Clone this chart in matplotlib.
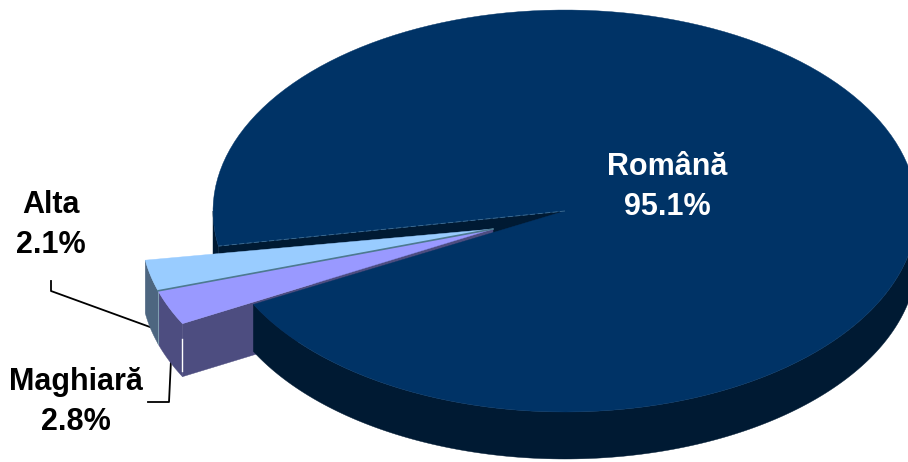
"""Exploded 3D pie of mother tongue shares, drawn by hand on a pixel canvas."""
import numpy as np
import matplotlib
matplotlib.use("Agg")
import matplotlib.pyplot as plt
from matplotlib.patches import Polygon

plt.rcParams["font.family"] = ["Liberation Sans", "DejaVu Sans"]

LABELS = ["Română", "Alta", "Maghiară"]
VALUES = [95.1, 2.1, 2.8]

W, H = 908, 462
CX, CY = 565, 211
RX, RY = 352, 201
DEPTH = 47
DEPTH_SMALL = 53  # the pulled out slices look thicker in the perspective
START = 207.7  # edge of the big slice, degrees, y up
TIP = (493, 229)  # where the small slices meet
SPREAD = [1.0, 1.19, 1.01]  # perspective stretch of each slice's sweep

TOP = {"Română": "#003366", "Alta": "#99ccff", "Maghiară": "#9999ff"}
SIDE = {"Română": "#001a33", "Alta": "#4d6680", "Maghiară": "#4d4d80"}


def arc(a0, a1, center=(CX, CY), n=160):
    ang = np.radians(np.linspace(a0, a1, n))
    x = center[0] + RX * np.cos(ang)
    y = center[1] - RY * np.sin(ang)
    return np.column_stack([x, y])


def wall(ax, pts, color, z, depth=DEPTH):
    low = pts + np.array([0, depth])
    ax.add_patch(Polygon(np.vstack([pts, low[::-1]]), closed=True,
                         fc=color, ec=color, lw=0.3, zorder=z))


fig = plt.figure(figsize=(W / 100, H / 100), dpi=100)
ax = fig.add_axes([0, 0, 1, 1])
ax.set_xlim(0, W)
ax.set_ylim(H, 0)
ax.axis("off")

sweep = np.array(VALUES) / sum(VALUES) * 360 * np.array(SPREAD)
main_end = START + sweep[0]
centre = np.array([[CX, CY]])

# big slice: cut wall behind the gap first, outer wall goes over the small slices
face = arc(START, main_end)
back_edge = np.vstack([centre, face[-1:]])
wall(ax, back_edge, SIDE["Română"], 1)
wall(ax, arc(540, main_end, n=20), SIDE["Română"], 1)
wall(ax, arc(START, 360), SIDE["Română"], 3)
ax.add_patch(Polygon(np.vstack([centre, face]), closed=True,
                     fc=TOP["Română"], ec=TOP["Română"], lw=0.3, zorder=4))
ax.plot(back_edge[:, 0], back_edge[:, 1], color="#3f6f96", lw=0.6,
        ls=(0, (6, 3)), zorder=5)

# small slices go clockwise from the big slice's start edge
tip = np.array([TIP])
a_mag1 = START + 0.4
a_mag0 = a_mag1 - sweep[2]
a_alt1 = a_mag0
a_alt0 = a_alt1 - sweep[1]

alt = arc(a_alt0, a_alt1, center=TIP, n=30)
mag = arc(a_mag0, a_mag1, center=TIP, n=30)

wall(ax, alt, SIDE["Alta"], 2, DEPTH_SMALL)
wall(ax, mag, SIDE["Maghiară"], 2, DEPTH_SMALL)
wall(ax, np.vstack([tip, mag[-1:]]), SIDE["Maghiară"], 2, DEPTH_SMALL)
ax.add_patch(Polygon(np.vstack([tip, alt]), closed=True, fc=TOP["Alta"],
                     ec=TOP["Alta"], lw=0.3, zorder=6))
ax.add_patch(Polygon(np.vstack([tip, mag]), closed=True, fc=TOP["Maghiară"],
                     ec=TOP["Maghiară"], lw=0.3, zorder=6))
split = np.vstack([tip, alt[-1:]])
ax.plot(split[:, 0], split[:, 1], color="#4d7a90", lw=1.2, zorder=7)
ax.plot(split[-1, 0] * np.ones(2), [split[-1, 1], split[-1, 1] + DEPTH_SMALL],
        color="#7f9fb0", lw=0.8, zorder=2.5)
corner = mag[-1]
ax.plot([corner[0], corner[0]], [corner[1] + 15, corner[1] + 47], color="white",
        lw=1.0, zorder=2.5)

# leader lines
ax.plot([51, 51, 150], [281, 291, 327], color="black", lw=1.3, zorder=1.5)
ax.plot([171, 169, 148], [360, 402, 402], color="black", lw=1.3, zorder=1.5)

text_kw = dict(ha="center", va="center", fontsize=22, fontweight="bold",
               linespacing=1.42, zorder=9)
ax.text(667, 187, f"{LABELS[0]}\n{VALUES[0]}%", color="white", **text_kw)
ax.text(51, 225, f"{LABELS[1]}\n{VALUES[1]}%", color="black", **text_kw)
ax.text(76, 402, f"{LABELS[2]}\n{VALUES[2]}%", color="black", **text_kw)

fig.savefig("out.png", dpi=100)
